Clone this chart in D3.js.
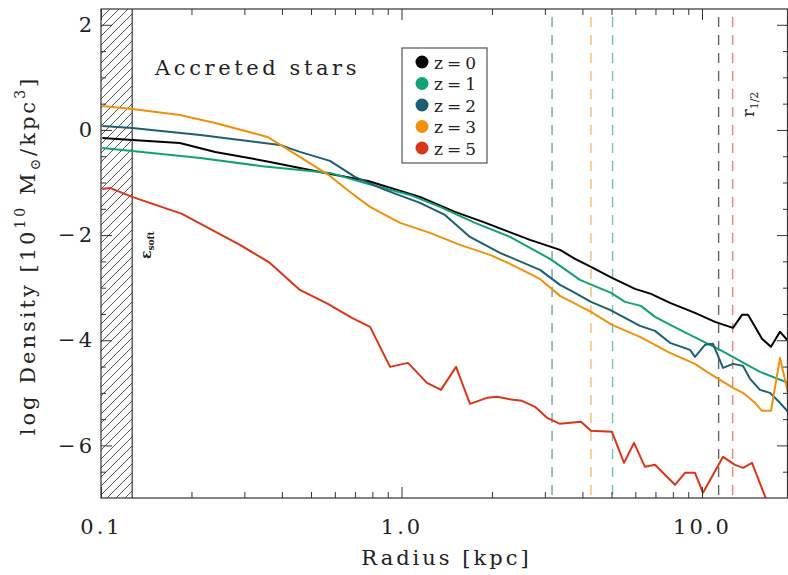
<!DOCTYPE html>
<html>
<head>
<meta charset="utf-8">
<script src="https://cdn.jsdelivr.net/npm/d3@7"></script>
<style>
  body { margin: 0; background: #fff; }
  svg text { font-family: "DejaVu Serif", serif; fill: #222; letter-spacing: 3px; }
</style>
</head>
<body>
<svg id="chart" width="788" height="575"></svg>
<script>
// radius [kpc] and log density for each redshift
var radiusZ0 = [0.101, 0.127, 0.183, 0.240, 0.365, 0.535, 0.774, 1.152, 1.507, 1.867, 2.677, 3.370, 3.779, 4.272, 5.018, 5.984, 6.766, 7.826, 9.478, 11.05, 12.68, 13.59, 14.23, 15.84, 16.97, 18.18, 19.33];
var densZ0   = [-0.152, -0.190, -0.247, -0.418, -0.608, -0.798, -0.970, -1.274, -1.559, -1.749, -2.091, -2.281, -2.452, -2.605, -2.814, -3.023, -3.118, -3.289, -3.479, -3.650, -3.764, -3.517, -3.517, -3.973, -4.125, -3.840, -4.011];

var radiusZ1 = [0.101, 0.127, 0.214, 0.338, 0.578, 0.756, 1.067, 1.343, 1.756, 2.296, 3.121, 3.926, 4.980, 5.544, 6.266, 6.976, 8.449, 11.48, 15.60, 19.33];
var densZ1   = [-0.342, -0.399, -0.532, -0.684, -0.817, -1.008, -1.236, -1.464, -1.768, -2.034, -2.452, -2.852, -3.099, -3.270, -3.346, -3.555, -3.802, -4.183, -4.601, -4.810];

var radiusZ2 = [0.101, 0.127, 0.214, 0.394, 0.459, 0.578, 0.700, 0.881, 1.152, 1.395, 1.690, 2.127, 2.890, 3.370, 3.779, 4.272, 4.941, 5.544, 6.218, 6.976, 7.826, 9.123, 9.478, 10.23, 10.88, 11.75, 12.68, 13.69, 14.45, 15.60, 16.84, 18.18, 19.33];
var densZ2   = [0.076, 0.038, -0.095, -0.285, -0.418, -0.589, -0.894, -1.141, -1.388, -1.616, -2.034, -2.338, -2.662, -2.947, -3.099, -3.270, -3.422, -3.574, -3.726, -3.821, -4.049, -4.183, -4.316, -4.087, -4.068, -4.525, -4.449, -4.487, -4.734, -4.943, -5.000, -5.190, -5.361];

var radiusZ3 = [0.101, 0.127, 0.183, 0.240, 0.358, 0.459, 0.578, 0.674, 0.786, 0.989, 1.244, 1.566, 1.970, 2.296, 2.890, 3.370, 4.272, 5.018, 6.218, 7.826, 9.478, 10.39, 11.48, 12.68, 13.69, 15.01, 15.84, 16.97, 18.18, 19.33];
var densZ3   = [0.456, 0.399, 0.285, 0.133, -0.133, -0.513, -0.875, -1.179, -1.464, -1.768, -1.958, -2.186, -2.376, -2.548, -2.833, -3.156, -3.460, -3.707, -3.935, -4.240, -4.449, -4.601, -4.753, -4.905, -5.000, -5.190, -5.342, -5.342, -4.335, -5.000];

var radiusZ5 = [0.101, 0.107, 0.127, 0.186, 0.290, 0.365, 0.459, 0.569, 0.684, 0.786, 0.916, 1.051, 1.216, 1.353, 1.519, 1.690, 1.925, 2.078, 2.350, 2.518, 2.782, 3.050, 3.370, 3.956, 4.272, 5.018, 5.502, 5.939, 6.461, 6.976, 8.131, 8.780, 9.478, 10.08, 11.75, 12.88, 13.69, 14.67, 16.33, 17.5];
var densZ5   = [-1.122, -1.103, -1.274, -1.597, -2.186, -2.529, -3.042, -3.308, -3.574, -3.745, -4.506, -4.430, -4.810, -4.943, -4.506, -5.209, -5.095, -5.076, -5.133, -5.152, -5.266, -5.475, -5.589, -5.551, -5.722, -5.741, -6.331, -5.951, -6.407, -6.369, -6.749, -6.521, -6.521, -6.901, -6.217, -6.369, -6.426, -6.331, -7.015, -7.41];

var seriesLabels = ['z=0', 'z=1', 'z=2', 'z=3', 'z=5'];
var seriesColors = ['#000000', '#12a077', '#1b5f70', '#f0900c', '#db3518'];
// half-mass radii r_1/2 (kpc), same order as the labels
var halfMassRadii = [11.36, 5.04, 3.17, 4.27, 12.65];
var epsSoft = 0.127;

var xMajor = [0.1, 1, 10];
var xMajorLabels = ['0.1', '1.0', '10.0'];
var xMinor = [0.2, 0.3, 0.4, 0.5, 0.6, 0.7, 0.8, 0.9, 2, 3, 4, 5, 6, 7, 8, 9];
var yMajor = [-6, -4, -2, 0, 2];
var yMinor = [-6.5, -5.5, -5, -4.5, -3.5, -3, -2.5, -1.5, -1, -0.5, 0.5, 1, 1.5];

var radii = [radiusZ0, radiusZ1, radiusZ2, radiusZ3, radiusZ5],
    dens = [densZ0, densZ1, densZ2, densZ3, densZ5];
var series = seriesLabels.map(function(label, i) {
    return {
        label: label,
        color: seriesColors[i],
        rHalf: halfMassRadii[i],
        points: radii[i].map(function(r, j) { return [r, dens[i][j]]; })
    };
});

var svg = d3.select('#chart'),
    pLeft = 101, pRight = 788, pTop = 9, pBottom = 498;

var x = d3.scaleLog().domain([0.1, 19.33]).range([pLeft, pRight]),
    y = d3.scaleLinear().domain([-7, 2.3]).range([pBottom, pTop]);

svg.append('clipPath').attr('id', 'plotClip')
    .append('rect').attr('x', pLeft).attr('y', pTop)
    .attr('width', pRight - pLeft).attr('height', pBottom - pTop);

var xEps = x(epsSoft),
    hw = xEps - pLeft;

svg.append('clipPath').attr('id', 'hatchClip')
    .append('rect').attr('x', pLeft).attr('y', pTop).attr('width', hw).attr('height', pBottom - pTop);

var plot = svg.append('g').attr('clip-path', 'url(#plotClip)');

// softening hatch
var hatch = plot.append('g')
    .attr('clip-path', 'url(#hatchClip)')
    .attr('stroke', '#444').attr('stroke-width', 0.9);
for (var k = pTop - hw; k < pBottom + hw; k += 9) {
    hatch.append('line')
        .attr('x1', pLeft).attr('y1', k + hw)
        .attr('x2', xEps).attr('y2', k);
}
plot.append('line')
    .attr('x1', xEps).attr('x2', xEps).attr('y1', pTop).attr('y2', pBottom)
    .attr('stroke', '#333').attr('stroke-width', 1.2);

// r_1/2 dashed markers
plot.selectAll('line.rhalf')
    .data(series)
    .enter().append('line')
    .attr('class', 'rhalf')
    .attr('x1', function(d) { return x(d.rHalf); })
    .attr('x2', function(d) { return x(d.rHalf); })
    .attr('y1', pTop).attr('y2', pBottom)
    .attr('stroke', function(d) { return d.color; })
    .attr('stroke-opacity', 0.6)
    .attr('stroke-width', 1.4)
    .attr('stroke-dasharray', '10,8')
    .attr('stroke-dashoffset', -8);

var line = d3.line()
    .x(function(d) { return x(d[0]); })
    .y(function(d) { return y(d[1]); });

plot.selectAll('path.profile')
    .data(series)
    .enter().append('path')
    .attr('class', 'profile')
    .attr('d', function(d) { return line(d.points); })
    .attr('fill', 'none')
    .attr('stroke', function(d) { return d.color; })
    .attr('stroke-width', 2)
    .attr('stroke-linejoin', 'round');

// axes, ticks pointing inward
function styleAxis(g) {
    g.select('.domain').remove();
    g.selectAll('line').attr('stroke', '#333');
    g.selectAll('text').attr('font-size', 21).attr('fill', '#222')
        .style('font-family', '"DejaVu Serif", serif');
}

svg.append('g').attr('transform', 'translate(0,' + pBottom + ')')
    .call(d3.axisBottom(x).tickValues(xMajor).tickSize(-11).tickPadding(21)
        .tickFormat(function(d, i) { return xMajorLabels[i]; }))
    .call(styleAxis);
svg.append('g').attr('transform', 'translate(0,' + pBottom + ')')
    .call(d3.axisBottom(x).tickValues(xMinor).tickSize(-6).tickFormat(''))
    .call(styleAxis);
svg.append('g').attr('transform', 'translate(0,' + pTop + ')')
    .call(d3.axisTop(x).tickValues(xMajor).tickSize(-11).tickFormat(''))
    .call(styleAxis);
svg.append('g').attr('transform', 'translate(0,' + pTop + ')')
    .call(d3.axisTop(x).tickValues(xMinor).tickSize(-6).tickFormat(''))
    .call(styleAxis);

svg.append('g').attr('transform', 'translate(' + pLeft + ',0)')
    .call(d3.axisLeft(y).tickValues(yMajor).tickSize(-11).tickPadding(6)
        .tickFormat(d3.format('d')))
    .call(styleAxis);
svg.append('g').attr('transform', 'translate(' + pLeft + ',0)')
    .call(d3.axisLeft(y).tickValues(yMinor).tickSize(-5).tickFormat(''))
    .call(styleAxis);
svg.append('g').attr('transform', 'translate(' + pRight + ',0)')
    .call(d3.axisRight(y).tickValues(yMajor).tickSize(-11).tickFormat(''))
    .call(styleAxis);
svg.append('g').attr('transform', 'translate(' + pRight + ',0)')
    .call(d3.axisRight(y).tickValues(yMinor).tickSize(-5).tickFormat(''))
    .call(styleAxis);

// frame
svg.append('rect')
    .attr('x', pLeft).attr('y', pTop)
    .attr('width', pRight - pLeft - 0.5).attr('height', pBottom - pTop)
    .attr('fill', 'none').attr('stroke', '#333').attr('stroke-width', 1.2);

// axis titles
svg.append('text')
    .attr('x', (pLeft + pRight) / 2 + 2).attr('y', 565)
    .attr('text-anchor', 'middle').attr('font-size', 21)
    .text('Radius [kpc]');

var yTitle = svg.append('text')
    .attr('transform', 'translate(35,' + ((pTop + pBottom) / 2 + 2) + ') rotate(-90)')
    .attr('text-anchor', 'middle').attr('font-size', 21);
yTitle.append('tspan').text('log Density [10');
yTitle.append('tspan').attr('font-size', 14).attr('dy', -10).text('10');
yTitle.append('tspan').attr('dy', 10).text(' M');
yTitle.append('tspan').attr('font-size', 14).attr('dy', 5).text('\u2299');
yTitle.append('tspan').attr('dy', -5).text('/kpc');
yTitle.append('tspan').attr('font-size', 14).attr('dy', -10).text('3');
yTitle.append('tspan').attr('dy', 10).text(']');

// annotations
svg.append('text')
    .attr('x', 155).attr('y', 75).attr('font-size', 21)
    .style('letter-spacing', '3.6px')
    .text('Accreted stars');

var epsLabel = svg.append('text')
    .attr('transform', 'translate(151,259) rotate(-90)')
    .attr('font-size', 14).style('letter-spacing', '0px').attr('font-weight', 'bold');
epsLabel.append('tspan').text('\u03b5');
epsLabel.append('tspan').attr('font-size', 9).attr('dy', 3).text('soft');

var rLabel = svg.append('text')
    .attr('transform', 'translate(754,117) rotate(-90)')
    .attr('font-size', 16).style('letter-spacing', '0px');
rLabel.append('tspan').text('r');
rLabel.append('tspan').attr('font-size', 11).attr('dy', 4).text('1/2');

// legend
var legend = svg.append('g');
legend.append('rect')
    .attr('x', 402).attr('y', 48).attr('width', 85).attr('height', 115)
    .attr('fill', '#fff').attr('stroke', '#555').attr('stroke-width', 1.2);
var rows = legend.selectAll('g.row')
    .data(series)
    .enter().append('g')
    .attr('class', 'row')
    .attr('transform', function(d, i) { return 'translate(0,' + (62 + i * 21.5) + ')'; });
rows.append('circle')
    .attr('cx', 422).attr('cy', 0).attr('r', 6.5)
    .attr('fill', function(d) { return d.color; });
rows.append('text')
    .attr('x', 434).attr('y', 6.5).attr('font-size', 17)
    .style('letter-spacing', '4px')
    .text(function(d) { return d.label; });
</script>
</body>
</html>
